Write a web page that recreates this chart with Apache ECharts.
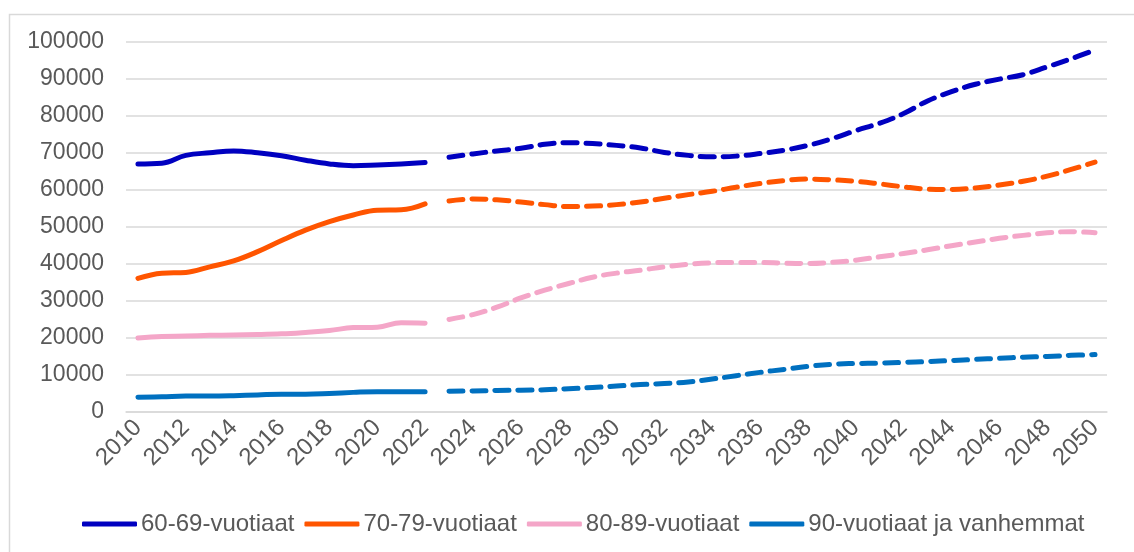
<!DOCTYPE html>
<html>
<head>
<meta charset="utf-8">
<script src="https://cdn.jsdelivr.net/npm/echarts@6/dist/echarts.min.js"></script>
<style>
html,body{margin:0;padding:0;background:#fff;}
#chart{width:1134px;height:552px;}
</style>
</head>
<body>
<div id="chart"></div>
<script>
// Years 2010..2050
const years = [];
for (let y = 2010; y <= 2050; y++) years.push(String(y));

const seriesNames = ['60-69-vuotiaat', '70-79-vuotiaat', '80-89-vuotiaat', '90-vuotiaat ja vanhemmat'];
const colors = ['#0000C0', '#FF5500', '#F4A6C8', '#0070C0'];

// Observed 2010..2022
const obs6069 = [67000, 67200, 69300, 70000, 70500, 70000, 69200, 68000, 67000, 66500, 66700, 67000, 67400];
const obs7079 = [36100, 37500, 37700, 39200, 40800, 43300, 46300, 49100, 51400, 53200, 54500, 54600, 56200];
const obs8089 = [20000, 20400, 20500, 20700, 20800, 20900, 21100, 21500, 22000, 22800, 22900, 24100, 24000];
const obs90 = [4000, 4100, 4300, 4300, 4400, 4600, 4800, 4800, 5000, 5300, 5500, 5500, 5500];

// Projection 2023..2050
const proj6069 = [68800, 69700, 70500, 71200, 72300, 72700, 72500, 72000, 71300, 70100, 69300, 68900, 69100, 69800,
  70700, 72000, 73800, 76000, 78000, 80600, 84000, 86500, 88500, 89900, 91100, 93200, 95400, 97800];
const proj7079 = [57000, 57500, 57300, 56700, 56000, 55500, 55600, 56000, 56700, 57700, 58700, 59600, 60700, 61700,
  62500, 62900, 62700, 62300, 61600, 60800, 60200, 60100, 60500, 61300, 62300, 63700, 65500, 67500];
const proj8089 = [25000, 26300, 28300, 30800, 32900, 34700, 36400, 37500, 38300, 39200, 39900, 40300, 40400, 40400,
  40200, 40100, 40400, 41000, 41900, 42800, 43800, 44900, 45900, 46900, 47700, 48400, 48700, 48400];
const proj90 = [5600, 5700, 5800, 5900, 6000, 6300, 6600, 7000, 7400, 7700, 8100, 8900, 9800, 10700,
  11500, 12300, 12900, 13100, 13200, 13400, 13600, 13900, 14200, 14500, 14800, 15000, 15300, 15500];

const yTicks = [0, 10000, 20000, 30000, 40000, 50000, 60000, 70000, 80000, 90000, 100000];

const observed = [obs6069, obs7079, obs8089, obs90];
const projected = [proj6069, proj7079, proj8089, proj90];

const FONT = '"Liberation Sans", Arial, sans-serif';
const TEXT = '#595959';

function padObs(a) { return a.concat(new Array(years.length - a.length).fill(null)); }
function padProj(a) { return new Array(years.length - a.length).fill(null).concat(a); }

const series = [];
seriesNames.forEach((name, k) => {
  series.push({
    name: name, type: 'line', data: padObs(observed[k]), symbol: 'none', smooth: 0.4,
    connectNulls: false,
    lineStyle: { color: colors[k], width: 5, cap: 'round', join: 'round' },
    itemStyle: { color: colors[k] }, z: 3
  });
});
seriesNames.forEach((name, k) => {
  series.push({
    name: name, type: 'line', data: padProj(projected[k]), symbol: 'none', smooth: 0.4,
    connectNulls: false,
    lineStyle: { color: colors[k], width: 5, type: [14, 9], cap: 'round', join: 'round' },
    itemStyle: { color: colors[k] }, z: 3
  });
});

const chart = echarts.init(document.getElementById('chart'), null, { renderer: 'canvas' });
chart.setOption({
  animation: false,
  backgroundColor: '#ffffff',
  textStyle: { fontFamily: FONT },
  graphic: [{
    type: 'rect', left: 7, top: 12, silent: true,
    shape: { width: 1200, height: 600 },
    style: { fill: 'none', stroke: '#d9d9d9', lineWidth: 1.5 }
  }],
  grid: { left: 126, right: 27, top: 41.7, bottom: 140, containLabel: false },
  legend: {
    data: seriesNames.map(n => ({ name: n, icon: 'roundRect' })),
    left: 77, top: 507,
    itemWidth: 55, itemHeight: 5, itemGap: 10,
    textStyle: { color: TEXT, fontSize: 24, fontFamily: FONT, padding: [0, 0, 0, -1] }
  },
  xAxis: {
    type: 'category', data: years, boundaryGap: true,
    axisLine: { show: true, lineStyle: { color: '#d9d9d9', width: 1.5 } },
    axisTick: { show: false },
    axisLabel: { interval: 1, rotate: 45, color: TEXT, fontSize: 24, fontFamily: FONT, margin: 12 },
    splitLine: { show: false }
  },
  yAxis: {
    type: 'value', min: yTicks[0], max: yTicks[yTicks.length - 1], interval: yTicks[1] - yTicks[0],
    axisLine: { show: false }, axisTick: { show: false },
    axisLabel: { color: TEXT, fontSize: 23, fontFamily: FONT, margin: 22, formatter: function (v) { return String(v); } },
    splitLine: { lineStyle: { color: '#d9d9d9', width: 1.5 } }
  },
  series: series
});
</script>
</body>
</html>
